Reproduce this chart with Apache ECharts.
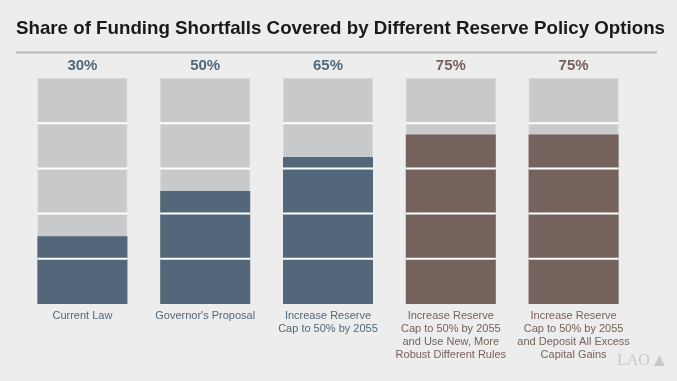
<!DOCTYPE html>
<html><head><meta charset="utf-8">
<script src="https://cdn.jsdelivr.net/npm/echarts@6/dist/echarts.min.js"></script>
<style>html,body{margin:0;padding:0;background:#ecedec;}#c{width:677px;height:381px;}</style>
</head><body><div id="c"></div>
<script>
const titleText = 'Share of Funding Shortfalls Covered by Different Reserve Policy Options';
const categories = ['Current Law', "Governor's Proposal", 'Increase Reserve\nCap to 50% by 2055', 'Increase Reserve\nCap to 50% by 2055\nand Use New, More\nRobust Different Rules', 'Increase Reserve\nCap to 50% by 2055\nand Deposit All Excess\nCapital Gains'];
const shares = [30, 50, 65, 75, 75];
const totals = [100, 100, 100, 100, 100];
const separators = [20, 40, 60, 80];
const fillColors = ['#52687a', '#52687a', '#52687a', '#76625c', '#76625c'];
const textColors = ['#52687a', '#52687a', '#52687a', '#76625c', '#76625c'];

const titleFont = 'bold 18.5px "Liberation Sans", Arial';
const cv = document.createElement('canvas').getContext('2d');
cv.font = titleFont;
const titleW = cv.measureText(titleText).width;
const titleScale = Math.min(1.2, 649 / titleW);

const chart = echarts.init(document.getElementById('c'));
chart.setOption({
  backgroundColor: '#ecedec',
  animation: false,
  graphic: [
    { type: 'text', x: 16, y: 28.5, scaleX: titleScale, scaleY: 1,
      style: { text: titleText, font: titleFont, fill: '#1a1a1a', align: 'left', verticalAlign: 'middle' } },
    { type: 'line', shape: { x1: 16, y1: 52.5, x2: 657, y2: 52.5 }, style: { stroke: '#b9bbbb', lineWidth: 2 } },
    { type: 'text', left: 617, top: 353, style: { text: 'LAO', fontFamily: '"Liberation Serif", "DejaVu Serif", serif', fontSize: 16, fill: '#c8caca' } },
    { type: 'polygon', shape: { points: [[654,366],[665,366],[663,362],[661,358],[659.5,355],[658,358],[656,362]] }, style: { fill: '#c8caca' } }
  ],
  grid: { left: 21, right: 42, top: 78, bottom: 77 },
  xAxis: {
    type: 'category',
    data: categories.map((c, i) => ({ value: c, textStyle: { color: textColors[i] } })),
    axisLine: { show: false }, axisTick: { show: false },
    axisLabel: { interval: 0, margin: 5, fontFamily: '"Liberation Sans", Arial', fontSize: 11, lineHeight: 13 }
  },
  yAxis: { type: 'value', min: 0, max: 100, show: false, splitLine: { show: false } },
  series: [
    {
      type: 'bar', barWidth: 90, barGap: '-100%',
      data: totals.map((v, i) => ({ value: v, label: { color: textColors[i] } })),
      itemStyle: { color: '#c8c9cb', borderColor: '#d6d7d8', borderWidth: 1 },
      label: {
        show: true, position: 'top', distance: 5,
        fontFamily: '"Liberation Sans", Arial', fontWeight: 'bold', fontSize: 15,
        formatter: p => shares[p.dataIndex] + '%'
      },
      z: 1
    },
    {
      type: 'bar', barWidth: 90, barGap: '-100%',
      data: shares.map((v, i) => ({ value: v, itemStyle: { color: fillColors[i] } })),
      itemStyle: { borderWidth: 0 },
      z: 2
    },
    {
      type: 'custom',
      data: shares.map((v, i) => i),
      z: 3,
      renderItem: function (params, api) {
        const idx = api.value(0);
        const children = separators.map(s => {
          const p = api.coord([idx, s]);
          return { type: 'line', shape: { x1: p[0] - 45, y1: p[1], x2: p[0] + 45, y2: p[1] }, style: { stroke: '#ffffff', lineWidth: 2 } };
        });
        return { type: 'group', children: children };
      }
    }
  ]
});
</script></body></html>
